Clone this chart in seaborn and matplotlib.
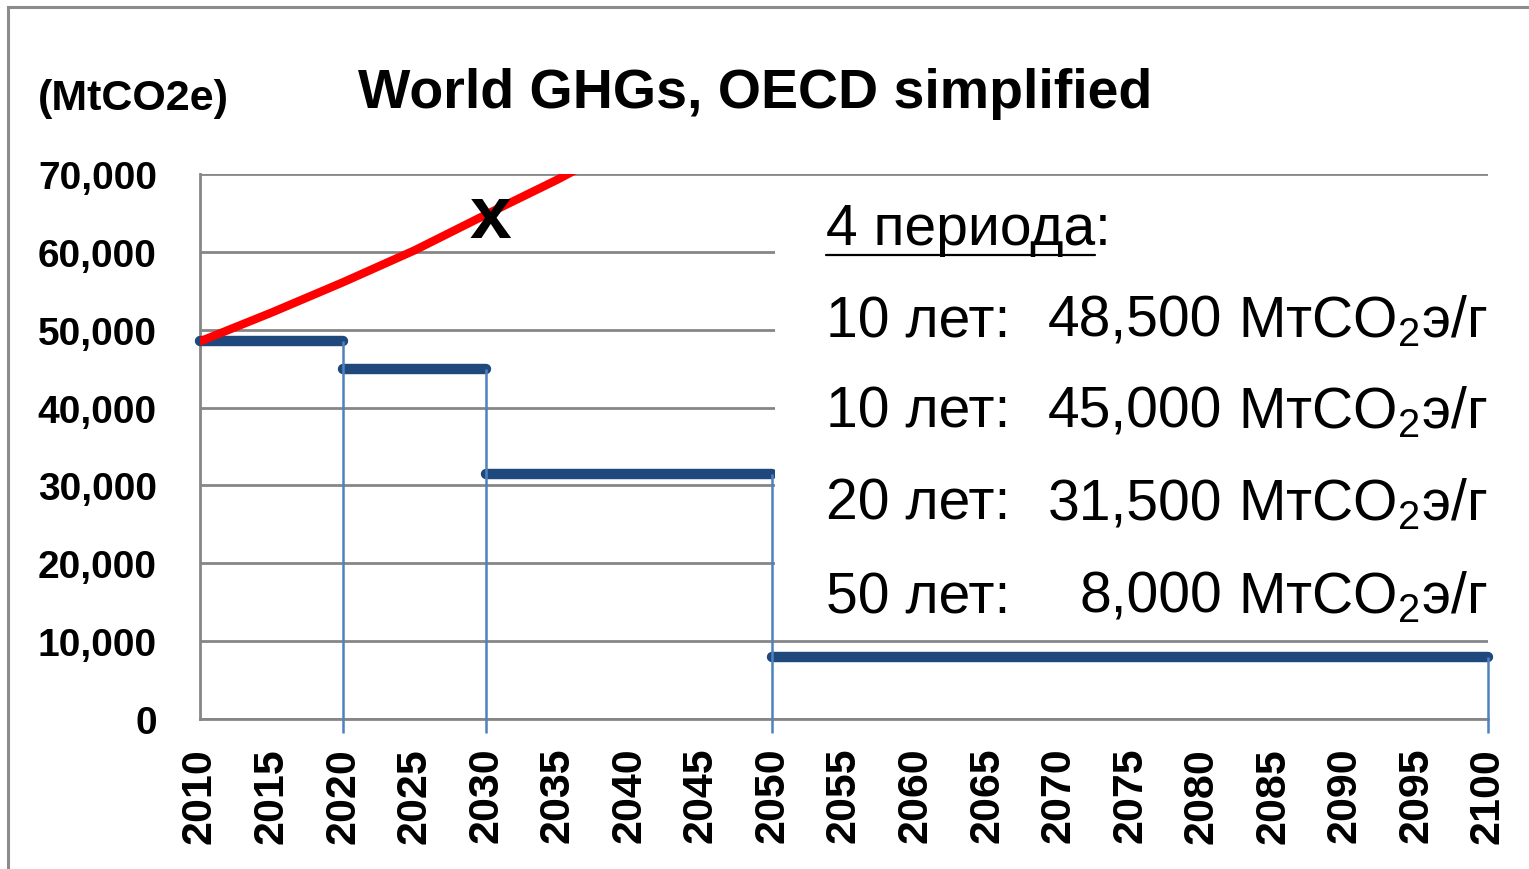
import numpy as np
import pandas as pd
import seaborn as sns
import matplotlib.pyplot as plt
from matplotlib import font_manager as fm
from matplotlib.patches import Rectangle
from matplotlib.lines import Line2D
from matplotlib.ticker import StrMethodFormatter

# data
bau_years = [2010, 2015, 2020, 2025, 2030, 2035, 2040]
bau_ghg = [48500, 52200, 56100, 60200, 64800, 69300, 74200]

period_start = [2010, 2020, 2030, 2050]
period_end = [2020, 2030, 2050, 2100]
period_level = [48500, 45000, 31500, 8000]

box_years = ["10 лет:", "10 лет:", "20 лет:", "50 лет:"]
box_values = ["48,500", "45,000", "31,500", "8,000"]
box_unit = "МтСО$_2$э/г"
box_head = "4 периода"

W, H = 1529, 870
GRID = "#868686"

sns.set_theme(style="white")
names = {f.name for f in fm.fontManager.ttflist}
narrow = "Liberation Sans Narrow" if "Liberation Sans Narrow" in names else "Liberation Sans"
plt.rcParams["font.family"] = [narrow, "DejaVu Sans"]
plt.rcParams["mathtext.default"] = "regular"
plt.rcParams.update({"text.color": "black", "xtick.color": "black", "ytick.color": "black"})

fig, ax = plt.subplots(figsize=(W / 100, H / 100), dpi=100)
fig.subplots_adjust(left=200 / W, right=1488 / W, bottom=1 - 720 / H, top=1 - 175 / H)

bau = pd.DataFrame({"year": bau_years, "ghg": bau_ghg})
sns.lineplot(data=bau, x="year", y="ghg", color="#ff0000", lw=6, ax=ax, zorder=5)

# step budget: thick horizontals, thin drops to zero
hl = ax.hlines(period_level, period_start, period_end, color="#1f497d", lw=7.5, zorder=3, clip_on=False)
hl.set_capstyle("round")
ax.vlines(period_end, -1800, period_level, color="#4f81bd", lw=1.8, zorder=4, clip_on=False)

ax.set(xlim=(2010, 2100), ylim=(0, 70000), xlabel="", ylabel="")
ax.set_xticks(np.arange(2010, 2101, 5))
ax.set_yticks(np.arange(0, 70001, 10000))
ax.yaxis.set_major_formatter(StrMethodFormatter("{x:,.0f}"))
ax.set_axisbelow(True)
ax.yaxis.grid(True, color=GRID, lw=2)
for s in ["top", "right"]:
    ax.spines[s].set_visible(False)
for s in ["left", "bottom"]:
    ax.spines[s].set_color(GRID)
    ax.spines[s].set_linewidth(2)
ax.tick_params(axis="both", direction="out", length=11, width=2, color=GRID)
ax.tick_params(axis="y", pad=20, labelsize=28, labelcolor="black")
ax.tick_params(axis="x", pad=9, labelsize=31, rotation=90, labelcolor="black")
for lab in ax.get_xticklabels() + ax.get_yticklabels():
    lab.set_fontweight("bold")

# white panel behind the legend text hides grid and lines
ax.add_patch(Rectangle((0.4464, 0.165), 0.57, 0.817, transform=ax.transAxes,
                       facecolor="white", edgecolor="none", zorder=6, clip_on=False))

ax.text(2030.26, 61900, "x", ha="center", va="baseline", fontsize=54,
        fontweight="bold", family="Liberation Sans", zorder=7)

fig.text(755 / W, 1 - 108 / H, "World GHGs, OECD simplified", ha="center", va="baseline",
         fontsize=40, fontweight="bold")
fig.text(38 / W, 1 - 110 / H, "(MtCO2e)", va="baseline", fontsize=31, fontweight="bold")

box_font = dict(family="Liberation Sans", fontsize=41, va="baseline", zorder=8)
head = fig.text(826 / W, 1 - 245 / H, box_head, **box_font)
fig.canvas.draw()
bb = head.get_window_extent()
fig.text(bb.x1 / W, 1 - 245 / H, ":", **box_font)
fig.add_artist(Line2D([bb.x0 / W, bb.x1 / W], [1 - 256 / H] * 2, color="black", lw=1.6))

baselines = [337, 428, 520, 613]
for yb, yrs, val in zip(baselines, box_years, box_values):
    fig.text(826 / W, 1 - yb / H, yrs, ha="left", **box_font)
    fig.text(1222 / W, 1 - yb / H, val, ha="right", **box_font)
    fig.text(1238 / W, 1 - yb / H, box_unit, ha="left", **box_font)

# outer chart frame (cut off on the right and bottom)
fig.add_artist(Rectangle((8 / W, -0.05), 1.2, 1 - 8 / H + 0.05, transform=fig.transFigure,
                         fill=False, edgecolor="#8c8c8c", lw=2.2))

fig.savefig("out.png", dpi=100)
